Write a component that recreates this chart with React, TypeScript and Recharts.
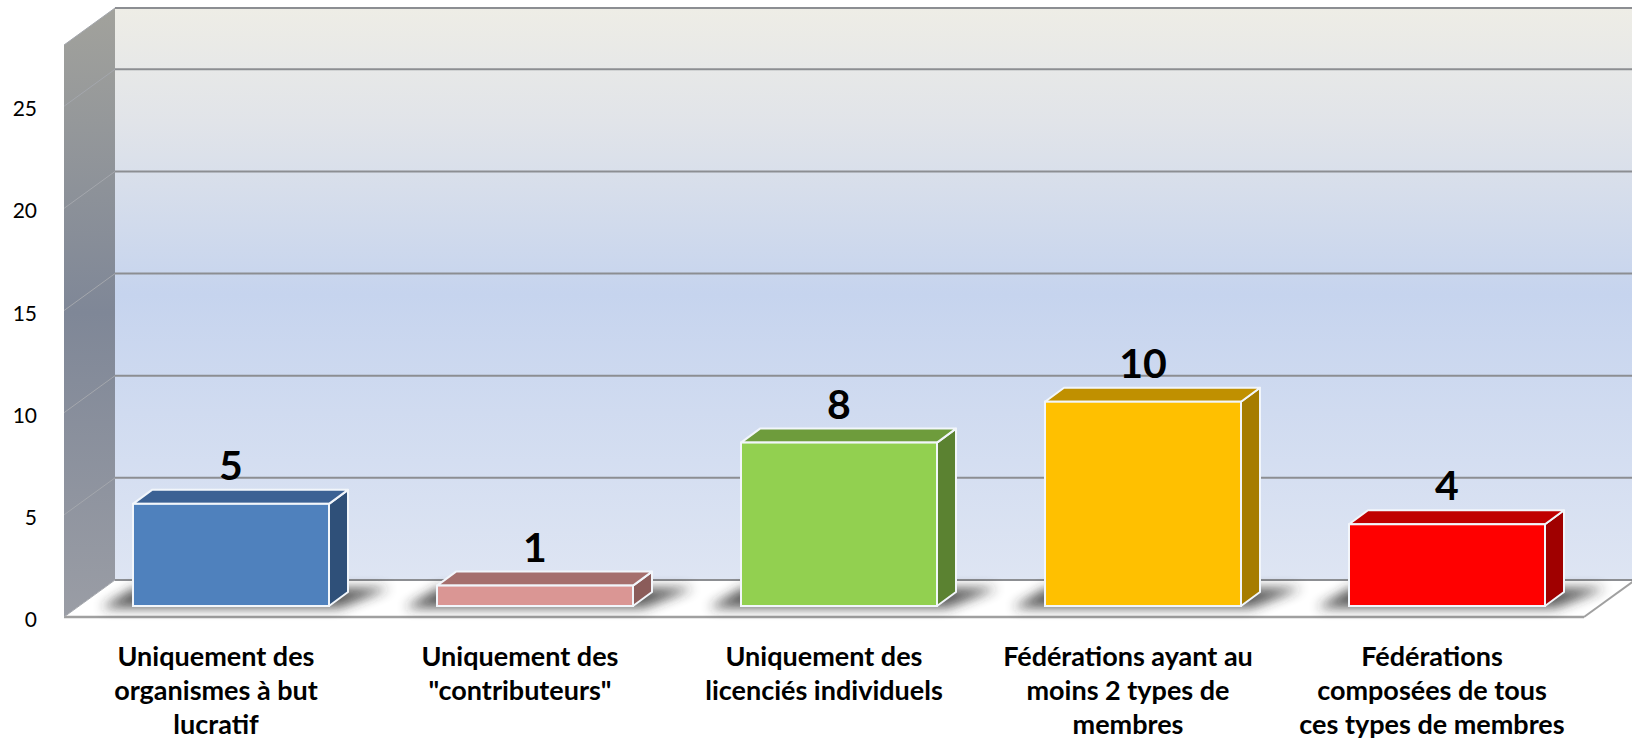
import React from "react";
import {
  BarChart,
  Bar,
  XAxis,
  YAxis,
  CartesianGrid,
  ReferenceArea,
  LabelList,
} from "recharts";

const categories = [
  "Uniquement des\norganismes à but\nlucratif",
  "Uniquement des\n\"contributeurs\"",
  "Uniquement des\nlicenciés individuels",
  "Fédérations ayant au\nmoins 2 types de\nmembres",
  "Fédérations\ncomposées de tous\nces types de membres",
];
const values = [5, 1, 8, 10, 4];
const frontColors = ["#4F81BD", "#DA9694", "#92D050", "#FFC000", "#FF0000"];
const topColors = ["#3B6194", "#A56F6D", "#6E9C3C", "#C09000", "#C00000"];
const sideColors = ["#2F5079", "#8B5C5A", "#5B8231", "#A67C00", "#A00000"];
const yTicks = [0, 5, 10, 15, 20, 25];
const yMax = 28;

const data = categories.map((name, i) => ({ name, value: values[i], idx: i }));

// offsets of the 3D box, relative to the plane of the bar fronts
const FRONT = { dx: -15, dy: 11 };
const BACK = { dx: 36, dy: -26 };
const DEPTH = { dx: 19, dy: -14 };
const FONT = "Lato, 'Open Sans', sans-serif";

function Walls(props: any) {
  const { x, y, width, height } = props;
  const bottom = y + height;
  const fl = x + FRONT.dx;
  const fr = x + width + FRONT.dx;
  const bl = x + BACK.dx;
  const br = x + width + BACK.dx;
  const side = [
    [fl, y + FRONT.dy],
    [bl, y + BACK.dy],
    [bl, bottom + BACK.dy],
    [fl, bottom + FRONT.dy],
  ];
  const floor = [
    [fl, bottom + FRONT.dy],
    [fr, bottom + FRONT.dy],
    [br, bottom + BACK.dy],
    [bl, bottom + BACK.dy],
  ];
  const pts = (p: number[][]) => p.map((q) => q.join(",")).join(" ");
  return (
    <g>
      <defs>
        <linearGradient id="backWall" x1="0" y1="0" x2="0" y2="1">
          <stop offset="0%" stopColor="#EEEDE6" />
          <stop offset="20%" stopColor="#E1E4E9" />
          <stop offset="50%" stopColor="#C6D4EE" />
          <stop offset="100%" stopColor="#DEE5F3" />
        </linearGradient>
        <linearGradient id="sideWall" x1="0" y1="0" x2="0" y2="1">
          <stop offset="0%" stopColor="#A2A29C" />
          <stop offset="50%" stopColor="#7F8797" />
          <stop offset="100%" stopColor="#9A9DA5" />
        </linearGradient>
        <filter id="barShadow" x="-30%" y="-200%" width="160%" height="500%">
          <feGaussianBlur stdDeviation="6" />
        </filter>
      </defs>
      <rect x={bl} y={y + BACK.dy} width={width} height={height} fill="url(#backWall)" />
      <polygon points={pts(side)} fill="url(#sideWall)" />
      <polygon points={pts(floor)} fill="#FFFFFF" />
      <line
        x1={fl}
        y1={bottom + FRONT.dy}
        x2={fr}
        y2={bottom + FRONT.dy}
        stroke="#A0A0A0"
        strokeWidth={2.5}
      />
      <line
        x1={fr}
        y1={bottom + FRONT.dy}
        x2={br}
        y2={bottom + BACK.dy}
        stroke="#A0A0A0"
        strokeWidth={2}
      />
    </g>
  );
}

function GridLine(props: any) {
  const { x1, x2, y1, index } = props;
  return (
    <g key={`grid-${index}`}>
      <line
        x1={x1 + BACK.dx}
        y1={y1 + BACK.dy}
        x2={x2 + BACK.dx}
        y2={y1 + BACK.dy}
        stroke="#8C8E92"
        strokeWidth={2}
      />
      <line
        x1={x1 + FRONT.dx}
        y1={y1 + FRONT.dy}
        x2={x1 + BACK.dx}
        y2={y1 + BACK.dy}
        stroke="#A4A7AD"
        strokeWidth={1}
      />
    </g>
  );
}

function Box3D(props: any) {
  const { x, y, width, height } = props;
  const i = props.payload?.idx ?? props.index ?? 0;
  const yb = y + height;
  const edge = "#F2F6FB";
  const shadow = [
    [x - 32, yb + 2],
    [x + width + 10, yb + 2],
    [x + width + DEPTH.dx + 42, yb + DEPTH.dy - 4],
    [x + DEPTH.dx - 18, yb + DEPTH.dy - 4],
  ];
  const sideFace = [
    [x + width, y],
    [x + width + DEPTH.dx, y + DEPTH.dy],
    [x + width + DEPTH.dx, yb + DEPTH.dy],
    [x + width, yb],
  ];
  const topFace = [
    [x, y],
    [x + DEPTH.dx, y + DEPTH.dy],
    [x + width + DEPTH.dx, y + DEPTH.dy],
    [x + width, y],
  ];
  const pts = (p: number[][]) => p.map((q) => q.join(",")).join(" ");
  return (
    <g>
      <polygon points={pts(shadow)} fill="#262626" opacity={0.75} filter="url(#barShadow)" />
      <polygon points={pts(sideFace)} fill={sideColors[i]} stroke={edge} strokeWidth={2} strokeLinejoin="round" />
      <polygon points={pts(topFace)} fill={topColors[i]} stroke={edge} strokeWidth={2} strokeLinejoin="round" />
      <rect x={x} y={y} width={width} height={height} fill={frontColors[i]} stroke={edge} strokeWidth={2} />
    </g>
  );
}

function CategoryTick(props: any) {
  const { x, y, payload } = props;
  const lines = String(payload.value).split("\n");
  const cx = x + FRONT.dx;
  return (
    <text x={cx} y={y + 52} textAnchor="middle" fontFamily={FONT} fontWeight={700} fontSize={27} fill="#000">
      {lines.map((l, k) => (
        <tspan key={k} x={cx} dy={k === 0 ? 0 : 34}>
          {l}
        </tspan>
      ))}
    </text>
  );
}

function ValueTick(props: any) {
  const { y, payload } = props;
  return (
    <text x={37} y={y + 21} textAnchor="end" fontFamily={FONT} fontSize={21} fill="#000">
      {payload.value}
    </text>
  );
}

export default function App() {
  return (
    <div style={{ position: "absolute", left: 0, top: 0, background: "#FFFFFF" }}>
      <BarChart
        width={1632}
        height={741}
        data={data}
        margin={{ top: 34, right: 33, bottom: 35, left: 0 }}
        barSize={196}
      >
        <ReferenceArea y1={0} y2={yMax} shape={<Walls />} zIndex={-200} ifOverflow="visible" />
        <CartesianGrid vertical={false} horizontal={(p: any) => <GridLine {...p} />} />
        <XAxis
          dataKey="name"
          axisLine={false}
          tickLine={false}
          interval={0}
          height={100}
          tick={<CategoryTick />}
        />
        <YAxis
          domain={[0, yMax]}
          ticks={yTicks}
          width={79}
          axisLine={false}
          tickLine={false}
          tick={<ValueTick />}
        />
        <Bar dataKey="value" shape={<Box3D />} isAnimationActive={false}>
          <LabelList
            dataKey="value"
            position="top"
            offset={24}
            fill="#000"
            fontFamily={FONT}
            fontWeight={700}
            fontSize={41}
          />
        </Bar>
      </BarChart>
    </div>
  );
}
